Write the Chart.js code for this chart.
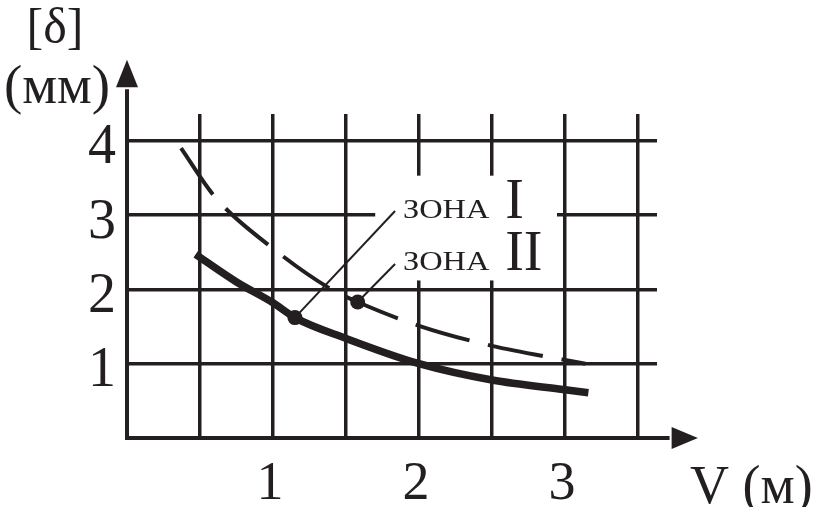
<!DOCTYPE html>
<html><head><meta charset="utf-8">
<script src="https://cdn.jsdelivr.net/npm/chart.js@4.4.0/dist/chart.umd.min.js"></script>
<style>html,body{margin:0;padding:0;background:#fff;} #wrap{width:816px;height:507px;}</style>
</head><body><div id="wrap"><canvas id="c" width="816" height="507"></canvas></div>
<script>
// ---- data ----
const xTickValues = [0, 0.5, 1, 1.5, 2, 2.5, 3, 3.5];
const xTickLabels = ['', '', '1', '', '2', '', '3', ''];
const yTickValues = [0, 1, 2, 3, 4];
const yTickLabels = ['', '1', '2', '3', '4'];

// зона I (solid, thick)
const zoneI_V     = [0.47, 0.5, 0.75, 1.0, 1.15, 1.5, 2.0, 2.5, 3.0, 3.16];
const zoneI_delta = [2.47, 2.43, 2.10, 1.82, 1.62, 1.34, 1.00, 0.78, 0.65, 0.61];
// зона II (dashed)
const zoneII_V     = [0.37, 0.6, 1.0, 1.4, 1.58, 2.0, 2.5, 3.0, 3.14];
const zoneII_delta = [3.90, 3.25, 2.55, 2.00, 1.83, 1.51, 1.24, 1.05, 1.00];

const zoneNames = ['ЗОНА', 'ЗОНА'];
const zoneNumerals = ['I', 'II'];
const markerV = [1.15, 1.58];
const markerDelta = [1.62, 1.83];

const yTitle1 = '[δ]';
const yTitle2 = '(мм)';
const xTitle = 'V (м)';

// ---- annotation geometry (not data) ----
const leaderEnd = [{x: 1.836, y: 3.055}, {x: 1.836, y: 2.342}];
const labelPos = [{x: 1.89, nx: 2.59, y: 2.96}, {x: 1.89, nx: 2.59, y: 2.26}];
const labelBox = {x1: 1.70, x2: 2.945, y1: 2.12, y2: 3.53};

const INK = '#231f20';
const SERIF = '"Liberation Serif", "Times New Roman", serif';

const pts = (xs, ys) => xs.map((x, i) => ({x, y: ys[i]}));

const decor = {
  id: 'decor',
  beforeDatasetsDraw(chart) {
    const ctx = chart.ctx;
    const xs = chart.scales.x, ys = chart.scales.y;
    const l = xs.getPixelForValue(labelBox.x1), r = xs.getPixelForValue(labelBox.x2);
    const t = ys.getPixelForValue(labelBox.y2), b = ys.getPixelForValue(labelBox.y1);
    ctx.save();
    ctx.fillStyle = '#ffffff';
    ctx.fillRect(l, t, r - l, b - t);
    ctx.restore();
  },
  afterDraw(chart) {
    const ctx = chart.ctx;
    const xs = chart.scales.x, ys = chart.scales.y;
    const x0 = xs.getPixelForValue(0), y0 = ys.getPixelForValue(0);
    ctx.save();
    ctx.fillStyle = INK; ctx.strokeStyle = INK;
    // axis extensions + arrows
    ctx.lineWidth = 4;
    const yTip = ys.getPixelForValue(5.09), yBase = ys.getPixelForValue(4.72);
    ctx.beginPath(); ctx.moveTo(x0, chart.chartArea.top + 1); ctx.lineTo(x0, yBase + 2); ctx.stroke();
    ctx.beginPath(); ctx.moveTo(x0, yTip); ctx.lineTo(x0 - 11, yBase); ctx.lineTo(x0 + 11, yBase); ctx.closePath(); ctx.fill();
    const xTip = xs.getPixelForValue(3.91), xBase = xs.getPixelForValue(3.73);
    ctx.beginPath(); ctx.moveTo(chart.chartArea.right - 1, y0); ctx.lineTo(xBase - 2, y0); ctx.stroke();
    ctx.beginPath(); ctx.moveTo(xTip, y0); ctx.lineTo(xBase, y0 - 11); ctx.lineTo(xBase, y0 + 11); ctx.closePath(); ctx.fill();

    // axis titles
    ctx.textBaseline = 'alphabetic';
    ctx.textAlign = 'center';
    ctx.font = '50px ' + SERIF;
    ctx.fillText(yTitle1, 55, 43);
    ctx.font = '55px ' + SERIF;
    ctx.fillText(yTitle2, 57, 103);
    ctx.textAlign = 'left';
    ctx.font = '54px ' + SERIF;
    ctx.fillText(xTitle, 690, 503);

    // zone labels
    for (let i = 0; i < zoneNames.length; i++) {
      const p = labelPos[i];
      const px = xs.getPixelForValue(p.x), py = ys.getPixelForValue(p.y);
      ctx.save();
      ctx.translate(px, py);
      ctx.scale(1.2, 1);
      ctx.font = '27px ' + SERIF;
      ctx.fillText(zoneNames[i], 0, 0);
      ctx.restore();
      ctx.font = '56px ' + SERIF;
      ctx.fillText(zoneNumerals[i], xs.getPixelForValue(p.nx), py);
    }
    ctx.restore();
  }
};

const leaderSets = markerV.map((v, i) => ({
  data: [{x: v, y: markerDelta[i]}, leaderEnd[i]],
  borderColor: INK, backgroundColor: INK, borderWidth: 2,
  pointRadius: [7.5, 0], pointHoverRadius: [7.5, 0], pointBorderWidth: 0,
  tension: 0, order: 0
}));

new Chart(document.getElementById('c'), {
  type: 'line',
  data: {
    datasets: [
      { data: pts(zoneI_V, zoneI_delta), borderColor: INK, borderWidth: 7.5,
        pointRadius: 0, cubicInterpolationMode: 'monotone', borderCapStyle: 'butt', order: 2 },
      { data: pts(zoneII_V, zoneII_delta), borderColor: INK, borderWidth: 4,
        borderDash: [56, 19], pointRadius: 0, cubicInterpolationMode: 'monotone', borderCapStyle: 'butt', order: 2 },
      ...leaderSets
    ]
  },
  options: {
    responsive: false, animation: false, devicePixelRatio: 1,
    layout: { padding: { top: 114, right: 159, left: 0, bottom: 0 } },
    plugins: { legend: { display: false }, tooltip: { enabled: false } },
    events: [],
    scales: {
      x: {
        type: 'linear', min: 0, max: 3.63,
        afterBuildTicks: s => { s.ticks = xTickValues.map(v => ({value: v})); },
        afterFit: s => { s.height = 69; },
        ticks: {
          callback: (v) => { const i = xTickValues.indexOf(v); return i >= 0 ? xTickLabels[i] : ''; },
          font: { family: SERIF, size: 54 }, color: INK, padding: 14, maxRotation: 0, autoSkip: false, labelOffset: -3
        },
        grid: { color: INK, lineWidth: 3.5, drawTicks: false },
        border: { color: INK, width: 4 }
      },
      y: {
        type: 'linear', min: 0, max: 4.36,
        afterBuildTicks: s => { s.ticks = yTickValues.map(v => ({value: v})); },
        afterFit: s => { s.width = 127; },
        ticks: {
          callback: (v) => { const i = yTickValues.indexOf(v); return i >= 0 ? yTickLabels[i] : ''; },
          font: { family: SERIF, size: 56 }, color: INK, padding: 11, autoSkip: false, labelOffset: 8
        },
        grid: { color: INK, lineWidth: 3.5, drawTicks: false },
        border: { color: INK, width: 4 }
      }
    }
  },
  plugins: [decor]
});
</script></body></html>
